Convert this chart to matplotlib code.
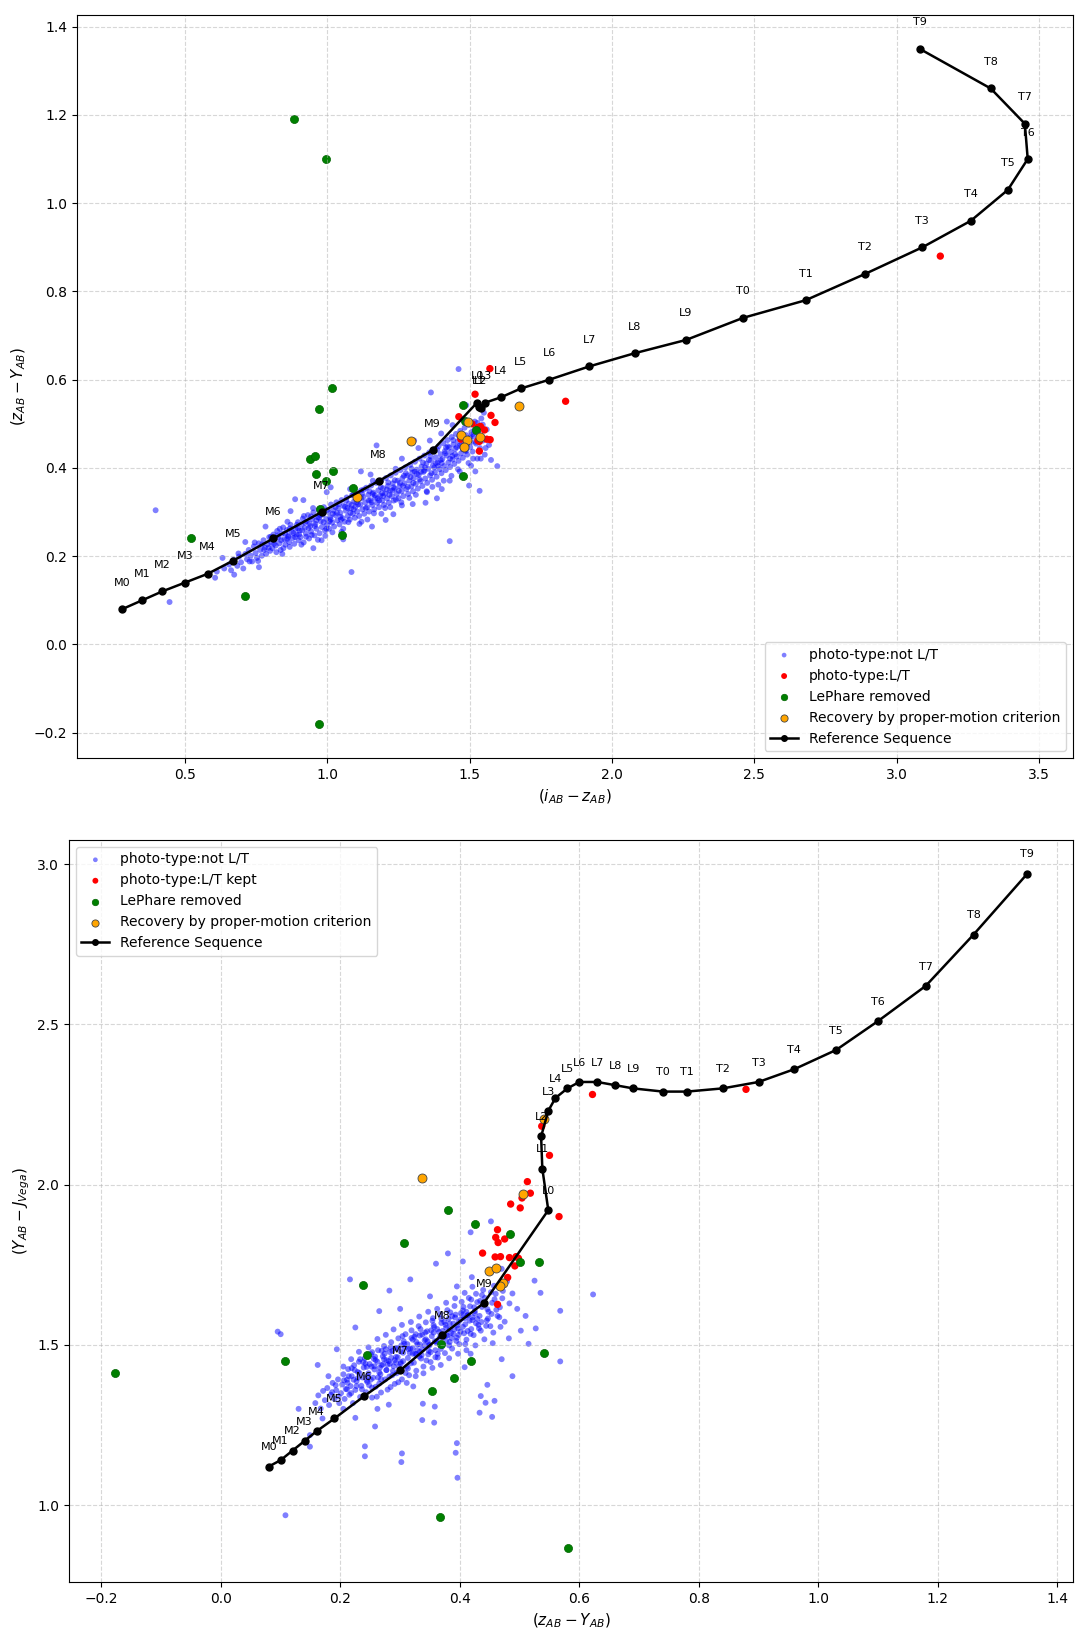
import numpy as np
import matplotlib
matplotlib.use("Agg")
import matplotlib.pyplot as plt

# reference sequence (spectral type, i-z, z-Y, Y-J)
spt = ['M0', 'M1', 'M2', 'M3', 'M4', 'M5', 'M6', 'M7', 'M8', 'M9',
       'L0', 'L1', 'L2', 'L3', 'L4', 'L5', 'L6', 'L7', 'L8', 'L9',
       'T0', 'T1', 'T2', 'T3', 'T4', 'T5', 'T6', 'T7', 'T8', 'T9']
seq_iz = [0.28, 0.35, 0.42, 0.50, 0.58, 0.67, 0.81, 0.98, 1.18, 1.37,
          1.526, 1.532, 1.54, 1.555, 1.61, 1.68, 1.78, 1.92, 2.08, 2.26,
          2.46, 2.68, 2.89, 3.09, 3.26, 3.39, 3.46, 3.45, 3.33, 3.08]
seq_zy = [0.08, 0.10, 0.12, 0.14, 0.16, 0.19, 0.24, 0.30, 0.37, 0.44,
          0.548, 0.538, 0.536, 0.548, 0.56, 0.58, 0.60, 0.63, 0.66, 0.69,
          0.74, 0.78, 0.84, 0.90, 0.96, 1.03, 1.10, 1.18, 1.26, 1.35]
seq_yj = [1.12, 1.14, 1.17, 1.20, 1.23, 1.27, 1.34, 1.42, 1.53, 1.63,
          1.92, 2.05, 2.15, 2.23, 2.27, 2.30, 2.32, 2.32, 2.31, 2.30,
          2.29, 2.29, 2.30, 2.32, 2.36, 2.42, 2.51, 2.62, 2.78, 2.97]

# ---- top panel: (i-z, z-Y) ----
blue_top = np.array([
    (0.612,0.165),(0.638,0.172),(0.655,0.181),(0.662,0.168),(0.671,0.192),(0.684,0.178),(0.690,0.199),(0.697,0.186),
    (0.705,0.172),(0.712,0.205),(0.718,0.193),(0.724,0.214),(0.731,0.201),(0.736,0.188),(0.742,0.222),(0.748,0.207),
    (0.753,0.196),(0.759,0.229),(0.764,0.214),(0.770,0.201),(0.776,0.236),(0.781,0.219),(0.785,0.205),(0.791,0.227),
    (0.796,0.243),(0.799,0.212),(0.803,0.231),(0.807,0.218),(0.811,0.249),(0.815,0.236),(0.819,0.224),(0.824,0.257),
    (0.828,0.242),(0.832,0.229),(0.836,0.214),(0.841,0.251),(0.845,0.265),(0.849,0.238),(0.853,0.226),(0.858,0.259),
    (0.862,0.246),(0.866,0.232),(0.871,0.271),(0.875,0.255),(0.879,0.241),(0.884,0.228),(0.888,0.262),(0.892,0.249),
    (0.897,0.277),(0.899,0.236),(0.903,0.258),(0.906,0.243),(0.910,0.272),(0.914,0.285),(0.917,0.231),(0.921,0.264),
    (0.925,0.251),(0.928,0.279),(0.932,0.293),(0.936,0.240),(0.940,0.268),(0.943,0.256),(0.947,0.284),(0.951,0.299),
    (0.955,0.247),(0.958,0.273),(0.962,0.262),(0.966,0.288),(0.969,0.305),(0.973,0.252),(0.977,0.279),(0.981,0.266),
    (0.984,0.294),(0.988,0.311),(0.992,0.258),(0.996,0.284),(0.999,0.271),(1.003,0.300),(1.006,0.262),(1.010,0.288),
    (1.013,0.317),(1.017,0.276),(1.021,0.304),(1.024,0.267),(1.028,0.293),(1.032,0.322),(1.035,0.281),(1.039,0.309),
    (1.043,0.272),(1.046,0.298),(1.050,0.327),(1.054,0.286),(1.057,0.314),(1.061,0.278),(1.065,0.303),(1.068,0.333),
    (1.072,0.291),(1.076,0.319),(1.079,0.283),(1.083,0.308),(1.087,0.338),(1.090,0.296),(1.094,0.324),(1.097,0.287),
    (1.099,0.312),(1.102,0.343),(1.105,0.301),(1.109,0.329),(1.112,0.291),(1.116,0.317),(1.119,0.349),(1.123,0.306),
    (1.126,0.334),(1.130,0.296),(1.133,0.322),(1.137,0.355),(1.140,0.311),(1.144,0.339),(1.147,0.301),(1.151,0.327),
    (1.154,0.360),(1.158,0.316),(1.161,0.344),(1.165,0.306),(1.168,0.332),(1.172,0.366),(1.175,0.321),(1.179,0.349),
    (1.182,0.311),(1.186,0.337),(1.189,0.371),(1.193,0.326),(1.196,0.354),(1.199,0.316),(1.203,0.342),(1.206,0.377),
    (1.210,0.331),(1.213,0.359),(1.216,0.321),(1.220,0.348),(1.223,0.383),(1.227,0.336),(1.230,0.365),(1.233,0.326),
    (1.237,0.353),(1.240,0.389),(1.244,0.341),(1.247,0.371),(1.250,0.331),(1.254,0.359),(1.257,0.395),(1.261,0.347),
    (1.264,0.377),(1.267,0.336),(1.271,0.365),(1.274,0.401),(1.278,0.352),(1.281,0.383),(1.284,0.341),(1.288,0.371),
    (1.291,0.407),(1.295,0.358),(1.298,0.389),(1.301,0.347),(1.304,0.377),(1.308,0.414),(1.311,0.364),(1.314,0.396),
    (1.318,0.353),(1.321,0.384),(1.324,0.421),(1.328,0.370),(1.331,0.403),(1.334,0.359),(1.338,0.391),(1.341,0.428),
    (1.344,0.376),(1.348,0.410),(1.351,0.366),(1.354,0.398),(1.358,0.435),(1.361,0.383),(1.364,0.417),(1.368,0.373),
    (1.371,0.405),(1.374,0.442),(1.378,0.390),(1.381,0.424),(1.384,0.380),(1.388,0.412),(1.391,0.449),(1.395,0.397),
    (1.398,0.431),(1.401,0.388),(1.404,0.420),(1.407,0.456),(1.410,0.404),(1.413,0.438),(1.416,0.395),(1.419,0.428),
    (1.422,0.463),(1.425,0.412),(1.428,0.446),(1.431,0.402),(1.434,0.436),(1.437,0.470),(1.440,0.419),(1.443,0.453),
    (1.446,0.409),(1.449,0.443),(1.452,0.477),(1.455,0.426),(1.458,0.460),(1.461,0.416),(1.464,0.450),(1.467,0.484),
    (1.470,0.433),(1.473,0.467),(1.476,0.423),(1.479,0.457),(1.482,0.491),(1.485,0.440),(1.488,0.474),(1.491,0.430),
    (1.494,0.464),(1.497,0.498),(1.502,0.447),(1.506,0.481),(1.510,0.437),(1.514,0.471),(1.518,0.505),(1.522,0.455),
    (1.527,0.421),(1.531,0.478),(1.536,0.445),(1.541,0.512),(1.547,0.462),(1.553,0.430),(1.560,0.487),(1.568,0.452),
    (1.575,0.418),(0.397,0.304),(0.446,0.096),(0.606,0.151),(0.673,0.158),(0.632,0.196),(0.783,0.267),(0.887,0.329),
    (0.916,0.327),(1.085,0.164),(1.173,0.451),(1.364,0.571),(1.461,0.624),(1.430,0.234),(1.597,0.404),(1.535,0.348),
    (1.345,0.321),(1.232,0.295),(1.157,0.267),(1.056,0.238),(1.205,0.282),(0.842,0.205),(0.951,0.218),(1.012,0.356),
    (1.118,0.392),(1.262,0.421),(1.305,0.462),(1.420,0.505),(1.488,0.542),(1.402,0.352),(1.472,0.381),(1.520,0.392),
    (1.385,0.331),(1.300,0.318),(0.760,0.175),(0.712,0.232),(1.550,0.525),(1.498,0.360),(0.871,0.302),(0.998,0.345),
    (1.152,0.385),
    (0.727,0.188),(0.802,0.244),(0.868,0.221),(0.943,0.290),(1.018,0.254),(1.091,0.339),(1.164,0.297),(1.237,0.372),
    (1.311,0.339),(1.386,0.441),(1.459,0.397),(1.517,0.487),(0.745,0.231),(0.821,0.209),(0.893,0.271),(0.967,0.237),
    (1.041,0.318),(1.113,0.273),(1.188,0.356),(1.262,0.315),(1.336,0.412),(1.409,0.371),(1.483,0.462),(1.539,0.421),
    (0.757,0.189),(0.833,0.262),(0.909,0.226),(0.982,0.301),(1.056,0.262),(1.128,0.351),(1.203,0.309),(1.276,0.388),
    (1.349,0.347),(1.423,0.449),(1.496,0.411),(1.546,0.498),(0.771,0.226),(0.846,0.218),(0.918,0.291),(0.993,0.246),
    (1.066,0.326),(1.141,0.283),(1.214,0.367),(1.288,0.332),(1.362,0.427),(1.436,0.382),(1.509,0.476),(1.556,0.445),
    (0.688,0.206),(0.859,0.239),(0.934,0.263),(1.008,0.279),(1.081,0.298),(1.155,0.322),(1.229,0.349),(1.302,0.366),
    (1.376,0.401),(1.449,0.431),(1.521,0.459),(0.778,0.214),(0.852,0.251),(0.926,0.244),(1.001,0.305),(1.074,0.277),
    (1.148,0.347),(1.221,0.311),(1.296,0.398),(1.369,0.357),(1.442,0.463),(1.512,0.421),(0.813,0.228),(0.887,0.243),
    (0.961,0.281),(1.034,0.298),(1.108,0.317),(1.182,0.326),(1.255,0.366),(1.329,0.391),(1.402,0.411),(1.476,0.442),
    (1.533,0.469),(0.794,0.219),(0.869,0.263),(0.945,0.248),(1.019,0.296),(1.093,0.306),(1.167,0.338),(1.241,0.328),
    (1.315,0.386),(1.389,0.404),(1.463,0.471),(1.527,0.502),(0.826,0.247),(0.901,0.249),(0.975,0.293),(1.048,0.283),
    (1.122,0.341),(1.196,0.336),(1.269,0.382),(1.343,0.401),(1.417,0.446),(1.490,0.451),(0.838,0.236),(0.912,0.259),
    (0.987,0.277),(1.062,0.312),(1.135,0.309),(1.209,0.351),(1.283,0.357),(1.357,0.418),(1.431,0.421),(1.504,0.458),
    (0.881,0.252),(0.956,0.268),(1.029,0.311),(1.103,0.322),(1.177,0.331),(1.251,0.348),(1.324,0.374),(1.398,0.418),
    (1.471,0.451),(0.897,0.263),(0.971,0.287),(1.046,0.289),(1.119,0.331),(1.193,0.343),(1.266,0.359),(1.341,0.394),
    (1.414,0.433),(1.487,0.438),(0.864,0.244),(0.938,0.274),(1.012,0.283),(1.086,0.316),(1.159,0.341),(1.233,0.356),
    (1.307,0.392),(1.381,0.411),(1.455,0.447),(0.922,0.276),(0.997,0.262),(1.071,0.309),(1.145,0.326),(1.218,0.339),
    (1.292,0.379),(1.366,0.388),(1.439,0.427),(1.502,0.469),
    (1.320,0.445),(1.360,0.462),(1.400,0.478),(1.440,0.497),(1.470,0.512),(1.350,0.345),(1.390,0.362),(1.430,0.371),
    (1.465,0.392),(1.505,0.405),(1.260,0.322),(1.190,0.296),(1.120,0.278),(1.050,0.255),(0.980,0.236),(1.080,0.352),
    (1.160,0.371),(1.240,0.398),(0.950,0.309),(0.860,0.278)])
red_top = np.array([
    (1.571,0.625),(1.519,0.567),(1.462,0.516),(1.575,0.519),(1.589,0.503),(1.508,0.500),(1.529,0.492),(1.538,0.494),
    (1.552,0.486),(1.469,0.465),(1.534,0.460),(1.560,0.465),(1.572,0.464),(1.529,0.462),(1.534,0.438),(1.837,0.551),
    (3.153,0.880)])
green_top = np.array([
    (0.883,1.190),(0.994,1.100),(1.018,0.581),(0.972,0.534),(0.938,0.420),(0.957,0.426),(0.961,0.387),(1.021,0.392),
    (0.994,0.370),(1.089,0.354),(0.974,0.306),(1.050,0.247),(0.520,0.241),(0.712,0.109),(0.971,-0.181),(1.476,0.542),
    (1.484,0.506),(1.521,0.486),(1.476,0.382)])
orange_top = np.array([
    (1.295,0.460),(1.103,0.335),(1.493,0.505),(1.471,0.474),(1.492,0.463),(1.536,0.470),(1.479,0.447),(1.673,0.540)])

# ---- bottom panel: (z-Y, Y-J) ----
blue_bot = np.array([
    (0.158,1.318),(0.163,1.342),(0.167,1.301),(0.171,1.356),(0.174,1.327),(0.178,1.365),(0.181,1.312),(0.184,1.344),
    (0.187,1.381),(0.190,1.331),(0.193,1.358),(0.196,1.392),(0.198,1.318),(0.201,1.349),(0.203,1.376),(0.205,1.408),
    (0.207,1.331),(0.209,1.362),(0.211,1.391),(0.213,1.424),(0.215,1.344),(0.217,1.371),(0.219,1.402),(0.221,1.318),
    (0.223,1.436),(0.225,1.359),(0.227,1.386),(0.229,1.415),(0.231,1.447),(0.233,1.337),(0.235,1.372),(0.237,1.398),
    (0.239,1.429),(0.241,1.458),(0.243,1.352),(0.245,1.384),(0.247,1.411),(0.249,1.440),(0.251,1.471),(0.253,1.366),
    (0.255,1.397),(0.257,1.423),(0.259,1.452),(0.261,1.338),(0.263,1.483),(0.265,1.379),(0.267,1.408),(0.269,1.436),
    (0.271,1.464),(0.273,1.496),(0.275,1.392),(0.277,1.421),(0.279,1.360),(0.281,1.449),(0.283,1.477),(0.285,1.508),
    (0.287,1.405),(0.289,1.433),(0.291,1.378),(0.293,1.462),(0.295,1.490),(0.297,1.520),(0.299,1.418),(0.301,1.446),
    (0.303,1.392),(0.305,1.475),(0.307,1.503),(0.309,1.533),(0.311,1.431),(0.313,1.459),(0.315,1.405),(0.317,1.488),
    (0.319,1.545),(0.321,1.516),(0.323,1.444),(0.325,1.472),(0.327,1.419),(0.329,1.501),(0.331,1.558),(0.333,1.529),
    (0.335,1.457),(0.337,1.485),(0.339,1.432),(0.341,1.514),(0.343,1.570),(0.345,1.542),(0.347,1.470),(0.349,1.498),
    (0.351,1.446),(0.353,1.527),(0.355,1.583),(0.357,1.555),(0.359,1.483),(0.361,1.511),(0.363,1.460),(0.365,1.540),
    (0.367,1.596),(0.369,1.568),(0.371,1.496),(0.373,1.524),(0.375,1.474),(0.377,1.553),(0.379,1.608),(0.381,1.581),
    (0.383,1.509),(0.385,1.537),(0.387,1.488),(0.389,1.566),(0.391,1.621),(0.393,1.594),(0.395,1.522),(0.397,1.551),
    (0.399,1.502),(0.401,1.579),(0.403,1.634),(0.405,1.607),(0.407,1.536),(0.409,1.564),(0.411,1.516),(0.413,1.592),
    (0.415,1.646),(0.417,1.620),(0.419,1.549),(0.421,1.577),(0.423,1.530),(0.425,1.605),(0.427,1.659),(0.429,1.633),
    (0.431,1.562),(0.433,1.590),(0.435,1.544),(0.437,1.618),(0.439,1.671),(0.442,1.646),(0.445,1.576),(0.448,1.603),
    (0.451,1.558),(0.454,1.631),(0.457,1.684),(0.460,1.659),(0.463,1.590),(0.467,1.617),(0.471,1.645),(0.475,1.572),
    (0.479,1.698),(0.483,1.629),(0.488,1.660),(0.212,1.381),(0.229,1.396),(0.244,1.431),(0.257,1.433),(0.273,1.455),
    (0.285,1.459),(0.301,1.479),(0.314,1.486),(0.327,1.509),(0.343,1.517),(0.356,1.538),(0.371,1.543),(0.383,1.566),
    (0.398,1.571),(0.413,1.592),(0.425,1.598),(0.251,1.391),(0.265,1.414),(0.277,1.421),(0.293,1.444),(0.305,1.449),
    (0.321,1.472),(0.333,1.478),(0.349,1.501),(0.361,1.506),(0.377,1.529),(0.389,1.534),(0.405,1.556),(0.216,1.704),
    (0.095,1.541),(0.282,1.669),(0.317,1.704),(0.360,1.753),(0.568,1.606),(0.568,1.448),(0.535,1.662),(0.496,1.612),
    (0.527,1.551),(0.502,1.544),(0.454,1.275),(0.443,1.319),(0.433,1.288),(0.393,1.163),(0.396,1.085),(0.302,1.134),
    (0.241,1.152),(0.149,1.182),(0.162,1.437),(0.194,1.486),(0.225,1.554),(0.357,1.257),(0.337,1.265),(0.108,0.968),
    (0.303,1.161),(0.241,1.183),(0.395,1.193),(0.458,1.325),(0.446,1.375),(0.435,1.340),(0.149,1.218),(0.258,1.245),
    (0.358,1.307),(0.338,1.316),(0.281,1.313),(0.225,1.272),(0.100,1.533),(0.623,1.657),(0.515,1.503),(0.488,1.402),
    (0.470,1.455),(0.482,1.520),(0.510,1.590),(0.470,1.737),(0.420,1.711),(0.265,1.605),(0.300,1.612),(0.180,1.402),
    (0.205,1.300),(0.262,1.300),(0.322,1.370),(0.408,1.430),(0.418,1.472),(0.455,1.505),(0.525,1.700),(0.395,1.682),
    (0.350,1.651),(0.130,1.300),(0.170,1.270),(0.452,1.885),(0.418,1.851),(0.380,1.785),(0.405,1.760),
    (0.186,1.352),(0.214,1.402),(0.236,1.361),(0.262,1.447),(0.288,1.418),(0.312,1.502),(0.336,1.468),(0.362,1.549),
    (0.386,1.521),(0.411,1.603),(0.436,1.571),(0.458,1.642),(0.192,1.374),(0.218,1.349),(0.242,1.441),(0.268,1.392),
    (0.292,1.489),(0.318,1.442),(0.342,1.538),(0.368,1.487),(0.392,1.585),(0.418,1.534),(0.441,1.628),(0.466,1.586),
    (0.197,1.339),(0.224,1.421),(0.248,1.374),(0.274,1.472),(0.298,1.431),(0.324,1.525),(0.348,1.481),(0.374,1.571),
    (0.398,1.531),(0.424,1.617),(0.447,1.582),(0.472,1.668),(0.206,1.389),(0.232,1.412),(0.256,1.456),(0.282,1.401),
    (0.306,1.511),(0.332,1.463),(0.356,1.561),(0.382,1.498),(0.406,1.618),(0.432,1.551),(0.452,1.664),(0.211,1.361),
    (0.238,1.446),(0.263,1.398),(0.287,1.481),(0.313,1.426),(0.337,1.532),(0.363,1.472),(0.387,1.589),(0.413,1.543),
    (0.437,1.655),(0.461,1.609),(0.222,1.391),(0.246,1.402),(0.271,1.439),(0.296,1.461),(0.321,1.489),(0.346,1.511),
    (0.371,1.531),(0.396,1.561),(0.421,1.586),(0.446,1.611),(0.219,1.427),(0.244,1.389),(0.269,1.481),(0.294,1.411),
    (0.319,1.521),(0.344,1.451),(0.369,1.581),(0.394,1.512),(0.419,1.641),(0.444,1.559),(0.227,1.371),(0.253,1.477),
    (0.279,1.438),(0.304,1.527),(0.329,1.483),(0.354,1.575),(0.379,1.529),(0.404,1.592),(0.429,1.581),(0.453,1.596),
    (0.233,1.455),(0.259,1.369),(0.284,1.492),(0.309,1.412),(0.334,1.549),(0.359,1.461),(0.384,1.601),(0.409,1.502),
    (0.434,1.637),(0.252,1.432),(0.277,1.452),(0.302,1.498),(0.327,1.471),(0.352,1.545),(0.377,1.512),(0.402,1.599),
    (0.427,1.567),(0.266,1.428),(0.291,1.452),(0.316,1.475),(0.341,1.498),(0.366,1.522),(0.391,1.548),(0.416,1.575),
    (0.258,1.463),(0.283,1.441),(0.308,1.491),(0.333,1.501),(0.358,1.511),(0.383,1.549),(0.408,1.583),(0.276,1.486),
    (0.301,1.441),(0.326,1.533),(0.351,1.477),(0.376,1.562),(0.401,1.541),
    (0.205,1.432),(0.218,1.455),(0.231,1.478),(0.247,1.492),(0.262,1.518),(0.276,1.531),(0.289,1.548),(0.303,1.562),
    (0.318,1.571),(0.332,1.588),(0.347,1.603),(0.362,1.612),(0.377,1.631),(0.392,1.645),(0.408,1.662),(0.421,1.681),
    (0.253,1.335),(0.268,1.351),(0.284,1.368),(0.297,1.383),(0.311,1.381),(0.326,1.402),(0.339,1.411),(0.354,1.428),
    (0.368,1.437),(0.382,1.458),(0.397,1.472),(0.411,1.483),(0.426,1.498),(0.441,1.517),(0.456,1.538),(0.468,1.556)])
red_bot = np.array([
    (0.622,2.281),(0.879,2.297),(0.537,2.182),(0.550,2.091),(0.513,2.009),(0.518,1.973),(0.504,1.958),(0.485,1.939),
    (0.501,1.927),(0.566,1.900),(0.463,1.859),(0.460,1.835),(0.475,1.830),(0.464,1.819),(0.438,1.786),(0.459,1.774),
    (0.468,1.775),(0.483,1.772),(0.494,1.775),(0.498,1.770),(0.492,1.746),(0.480,1.710),(0.463,1.626)])
green_bot = np.array([
    (-0.178,1.412),(0.107,1.448),(0.238,1.687),(0.245,1.467),(0.306,1.817),(0.353,1.355),(0.366,0.964),(0.368,1.503),
    (0.380,1.921),(0.390,1.396),(0.418,1.449),(0.425,1.877),(0.484,1.846),(0.501,1.758),(0.533,1.758),(0.540,1.474),
    (0.581,0.865)])
orange_bot = np.array([
    (0.336,2.020),(0.505,1.971),(0.540,2.206),(0.448,1.731),(0.460,1.738),(0.473,1.693),(0.468,1.682)])


def panel(ax, blue, red, green, orange, sx, sy, red_label, xlabel, ylabel, loc):
    ax.scatter(blue[:, 0], blue[:, 1], s=18, c='blue', alpha=0.5, edgecolors='none',
               label='photo-type:not L/T')
    ax.scatter(red[:, 0], red[:, 1], s=28, c='red', edgecolors='none', label=red_label)
    ax.scatter(green[:, 0], green[:, 1], s=34, c='green', edgecolors='darkgreen',
               linewidths=0.5, label='LePhare removed')
    ax.scatter(orange[:, 0], orange[:, 1], s=42, c='orange', edgecolors='#444444',
               linewidths=0.6, label='Recovery by proper-motion criterion')
    ax.plot(sx, sy, 'k-o', linewidth=1.8, markersize=5, label='Reference Sequence')
    for t, x, y in zip(spt, sx, sy):
        ax.text(x, y + 0.06, t, fontsize=8, ha='center', va='center')
    ax.set_xlabel(xlabel, fontsize=11)
    ax.set_ylabel(ylabel, fontsize=11)
    ax.grid(True, linestyle='--', alpha=0.5)
    ax.legend(loc=loc, fontsize=10, markerscale=0.8)


fig = plt.figure(figsize=(10.88, 16.45), dpi=100)
ax1 = fig.add_axes([0.0708, 0.5392, 0.9154, 0.4517])
ax2 = fig.add_axes([0.0634, 0.0383, 0.9228, 0.4511])

panel(ax1, blue_top, red_top, green_top, orange_top, seq_iz, seq_zy,
      'photo-type:L/T', r'$(i_{AB} - z_{AB})$', r'$(z_{AB} - Y_{AB})$', 'lower right')
panel(ax2, blue_bot, red_bot, green_bot, orange_bot, seq_zy, seq_yj,
      'photo-type:L/T kept', r'$(z_{AB} - Y_{AB})$', r'$(Y_{AB} - J_{Vega})$', 'upper left')

fig.savefig('out.png', dpi=100)
